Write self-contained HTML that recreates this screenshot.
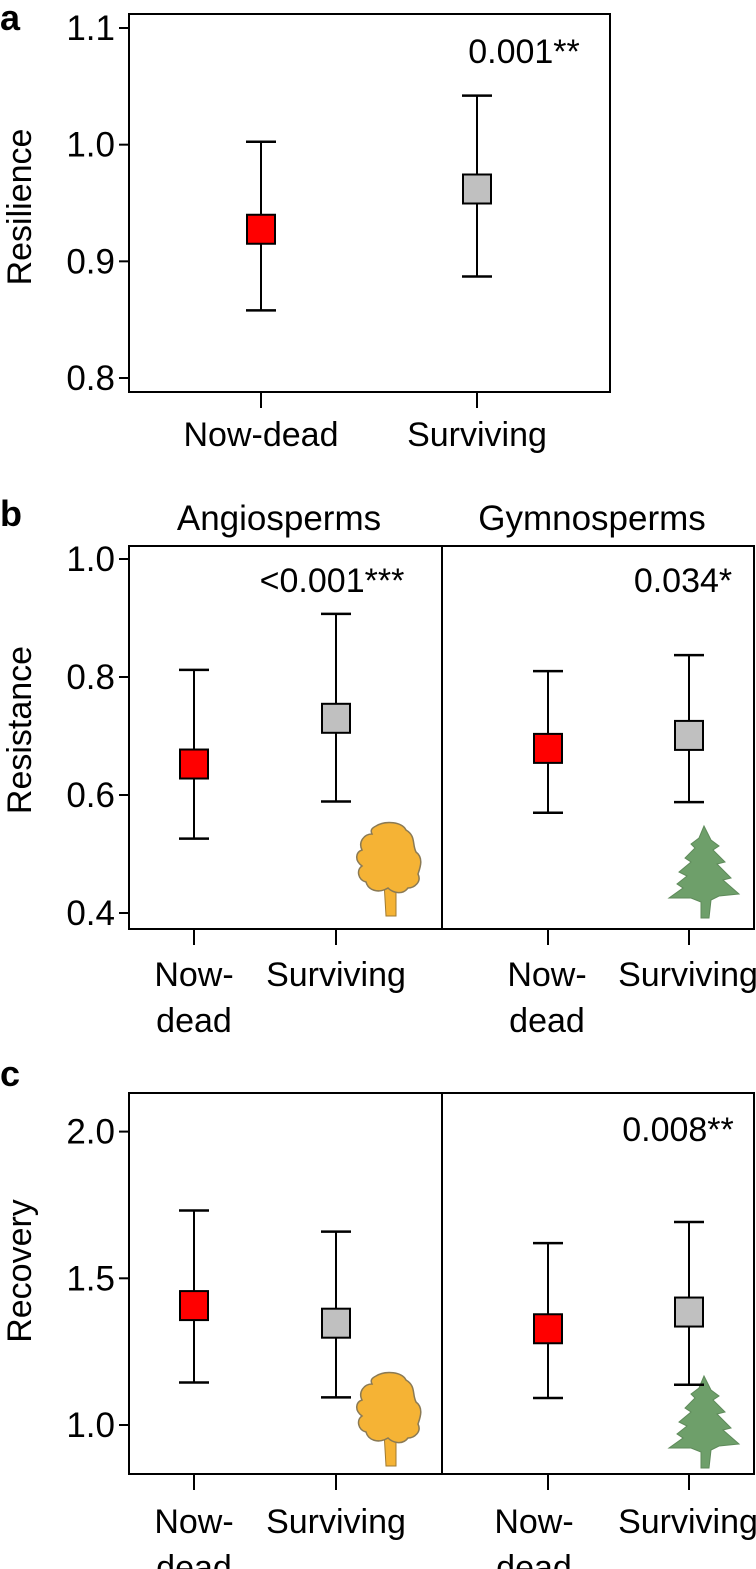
<!DOCTYPE html>
<html><head><meta charset="utf-8"><style>
html,body{margin:0;padding:0;background:#fff;}
svg{display:block;font-family:"Liberation Sans",Arial,sans-serif;}
</style></head><body>
<svg id="fig" width="756" height="1569" viewBox="0 0 756 1569" xmlns="http://www.w3.org/2000/svg">
<text x="0" y="30" font-size="36" font-weight="bold">a</text>
<text x="0" y="526" font-size="36" font-weight="bold">b</text>
<text x="0" y="1086" font-size="36" font-weight="bold">c</text>
<text x="279" y="530" font-size="35" text-anchor="middle">Angiosperms</text>
<text x="592" y="530" font-size="35" text-anchor="middle">Gymnosperms</text>
<text transform="translate(31,207) rotate(-90)" font-size="34" text-anchor="middle">Resilience</text>
<text transform="translate(31,730) rotate(-90)" font-size="34" text-anchor="middle">Resistance</text>
<text transform="translate(31,1271) rotate(-90)" font-size="34" text-anchor="middle">Recovery</text>
<g id="plots"></g>
</svg>
<script>
// Panel a: Resilience
const aCategories = ["Now-dead", "Surviving"];
const aMeans = [0.9275, 0.962];
const aUpper = [1.0025, 1.042];
const aLower = [0.858, 0.887];
const aTicks = [0.8, 0.9, 1.0, 1.1];
const aTickLabels = ["0.8", "0.9", "1.0", "1.1"];
// Panel b: Resistance (angiosperms, gymnosperms)
const bAngMeans = [0.6525, 0.730];
const bAngUpper = [0.812, 0.907];
const bAngLower = [0.526, 0.589];
const bGymMeans = [0.679, 0.701];
const bGymUpper = [0.810, 0.837];
const bGymLower = [0.570, 0.588];
const bTicks = [0.4, 0.6, 0.8, 1.0];
const bTickLabels = ["0.4", "0.6", "0.8", "1.0"];
// Panel c: Recovery
const cAngMeans = [1.407, 1.347];
const cAngUpper = [1.731, 1.659];
const cAngLower = [1.145, 1.094];
const cGymMeans = [1.328, 1.385];
const cGymUpper = [1.620, 1.692];
const cGymLower = [1.092, 1.137];
const cTicks = [1.0, 1.5, 2.0];
const cTickLabels = ["1.0", "1.5", "2.0"];
const colors = ["#ff0000", "#c0c0c0"];

const NS = "http://www.w3.org/2000/svg";
const root = document.getElementById("plots");
const FS = 34;
function mk(tag, attrs, parent) {
  const e = document.createElementNS(NS, tag);
  for (const k in attrs) e.setAttribute(k, attrs[k]);
  (parent || root).appendChild(e);
  return e;
}
function txt(s, x, y, anchor, size, name) {
  const t = mk("text", {x: x, y: y, "font-size": size, "text-anchor": anchor});
  t.textContent = s;
  
  
  return t;
}
function yScale(v0, y0, v1, y1) { return v => y0 + (v - v0) * (y1 - y0) / (v1 - v0); }

function frame(x0, x1, top, bottom, name) {
  const r = mk("rect", {x: x0, y: top, width: x1 - x0, height: bottom - top, fill: "none", stroke: "#000", "stroke-width": 2});
  
  
}
function yAxis(ticks, labels, ys, xLeft, prefix) {
  ticks.forEach((v, i) => {
    const y = ys(v);
    const l = mk("line", {x1: xLeft - 10, x2: xLeft, y1: y, y2: y, stroke: "#000", "stroke-width": 2});
    
    
    txt(labels[i], xLeft - 14, y + 12, "end", 35, prefix + '-y-tick-label');
  });
}
function series(xs, means, up, lo, ys, prefix) {
  xs.forEach((x, i) => {
    const g = mk("g", {});
    
    
    mk("line", {x1: x, x2: x, y1: ys(up[i]), y2: ys(lo[i]), stroke: "#000", "stroke-width": 2}, g);
    mk("line", {x1: x - 15, x2: x + 15, y1: ys(up[i]), y2: ys(up[i]), stroke: "#000", "stroke-width": 2.5}, g);
    mk("line", {x1: x - 15, x2: x + 15, y1: ys(lo[i]), y2: ys(lo[i]), stroke: "#000", "stroke-width": 2.5}, g);
    mk("rect", {x: x - 14, y: ys(means[i]) - 14.5, width: 28, height: 29, fill: colors[i], stroke: "#000", "stroke-width": 2}, g);
  });
}
function xTicks(xs, bottom, prefix) {
  xs.forEach(x => {
    const l = mk("line", {x1: x, x2: x, y1: bottom, y2: bottom + 16, stroke: "#000", "stroke-width": 2});
    
    
  });
}
function angioTree(x, y, name) {
  const g = mk("g", {transform: "translate(" + x + "," + y + ")"});
  
  
  mk("path", {d: "M34 60 L36 94 L46 94 L46 60 Z", fill: "#f5b335", stroke: "#a07a30", "stroke-width": 1}, g);
  mk("path", {d: "M26 4 C36 -2 52 0 56 8 C66 14 62 22 66 30 C74 36 70 46 68 52 C72 60 64 66 58 66 C52 74 42 70 38 66 C28 72 18 68 16 60 C8 58 6 48 12 44 C4 38 6 30 12 28 C8 20 14 12 22 12 C20 8 22 6 26 4 Z", fill: "#f5b335", stroke: "#8a7a55", "stroke-width": 1.5}, g);
}
function gymTree(x, y, name) {
  const g = mk("g", {transform: "translate(" + x + "," + y + ")"});
  
  
  mk("path", {d: "M35 0 L42 14 L50 20 L44 24 L56 36 L48 38 L62 52 L54 54 L70 68 L50 70 L42 74 L40 92 L32 92 L32 76 L22 72 L0 72 L14 62 L8 58 L18 50 L10 46 L22 36 L16 32 L26 22 L22 18 L30 12 Z", fill: "#6e9f6a", stroke: "#5e8a5a", "stroke-width": 1}, g);
}
function twoLineLabels(xNow, xSurv, base, prefix) {
  txt("Now-", xNow, base, "middle", FS, prefix + '-x-label-now-dead');
  txt("dead", xNow, base + 46, "middle", FS, prefix + '-x-label-now-dead-2');
  txt("Surviving", xSurv, base, "middle", FS, prefix + '-x-label-surviving');
}

// Panel a
(function () {
  const ys = yScale(0.8, 378, 1.1, 28);
  const xs = [261, 477];
  frame(129, 610, 14, 392, 'panel-a-frame');
  yAxis(aTicks, aTickLabels, ys, 129, 'panel-a');
  xTicks(xs, 392, 'panel-a');
  series(xs, aMeans, aUpper, aLower, ys, 'panel-a');
  xs.forEach((x, i) => txt(aCategories[i], x, 446, "middle", FS, 'panel-a-x-label-' + i));
  txt("0.001**", 524, 63, "middle", FS, 'panel-a-p-value');
})();

// Panel b
(function () {
  const ys = yScale(0.4, 913, 1.0, 559);
  const xa = [194, 336], xg = [548, 689];
  frame(129, 754, 546, 929, 'panel-b-frame');
  const d = mk("line", {x1: 442, x2: 442, y1: 546, y2: 929, stroke: "#000", "stroke-width": 2});
  
  
  yAxis(bTicks, bTickLabels, ys, 129, 'panel-b');
  xTicks(xa.concat(xg), 929, 'panel-b');
  angioTree(350, 822, 'panel-b-angiosperm-icon');
  gymTree(669, 826, 'panel-b-gymnosperm-icon');
  series(xa, bAngMeans, bAngUpper, bAngLower, ys, 'panel-b-angio');
  series(xg, bGymMeans, bGymUpper, bGymLower, ys, 'panel-b-gymno');
  twoLineLabels(194, 336, 986, 'panel-b-angio');
  twoLineLabels(547, 688, 986, 'panel-b-gymno');
  txt("<0.001***", 332, 592, "middle", FS, 'panel-b-angio-p-value');
  txt("0.034*", 683, 592, "middle", FS, 'panel-b-gymno-p-value');
})();

// Panel c
(function () {
  const ys = yScale(1.0, 1425, 2.0, 1131.6);
  const xa = [194, 336], xg = [548, 689];
  frame(129, 754, 1093, 1474, 'panel-c-frame');
  const d = mk("line", {x1: 442, x2: 442, y1: 1093, y2: 1474, stroke: "#000", "stroke-width": 2});
  
  
  yAxis(cTicks, cTickLabels, ys, 129, 'panel-c');
  xTicks(xa.concat(xg), 1474, 'panel-c');
  angioTree(350, 1372, 'panel-c-angiosperm-icon');
  gymTree(669, 1376, 'panel-c-gymnosperm-icon');
  series(xa, cAngMeans, cAngUpper, cAngLower, ys, 'panel-c-angio');
  series(xg, cGymMeans, cGymUpper, cGymLower, ys, 'panel-c-gymno');
  twoLineLabels(194, 336, 1533, 'panel-c-angio');
  twoLineLabels(534, 688, 1533, 'panel-c-gymno');
  txt("0.008**", 678, 1141, "middle", FS, 'panel-c-gymno-p-value');
})();
</script>
</body></html>
